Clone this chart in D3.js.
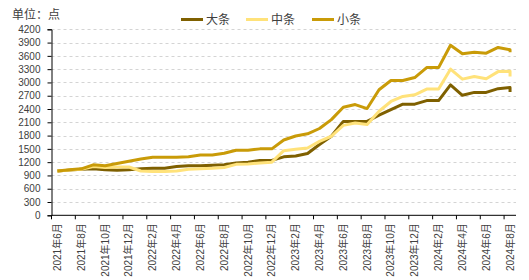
<!DOCTYPE html>
<html lang="zh">

<head>
    <meta charset="UTF-8">
    <script src="https://d3js.org/d3.v7.min.js"></script>
    <title>大中小条</title>
    <style>
        body { margin: 0; background: #fff; }
        text { font-family: "Liberation Sans", "Noto Sans CJK SC", sans-serif; fill: #404040; }
    </style>
</head>

<body>
    <div id="chart"></div>
    <script>

        // categories (monthly)
        const months = ["2021年6月", "2021年7月", "2021年8月", "2021年9月", "2021年10月", "2021年11月", "2021年12月",
            "2022年1月", "2022年2月", "2022年3月", "2022年4月", "2022年5月", "2022年6月", "2022年7月", "2022年8月",
            "2022年9月", "2022年10月", "2022年11月", "2022年12月", "2023年1月", "2023年2月", "2023年3月", "2023年4月",
            "2023年5月", "2023年6月", "2023年7月", "2023年8月", "2023年9月", "2023年10月", "2023年11月", "2023年12月",
            "2024年1月", "2024年2月", "2024年3月", "2024年4月", "2024年5月", "2024年6月", "2024年7月", "2024年8月"];

        // the last month has two readings
        const pointMonths = months.concat(["2024年8月"]);

        const big = [1000, 1020, 1040, 1050, 1030, 1020, 1030, 1050, 1060, 1060, 1100, 1120, 1120, 1130, 1140,
            1180, 1200, 1240, 1240, 1320, 1340, 1395, 1600, 1785, 2120, 2120, 2120, 2260, 2385, 2510, 2510,
            2590, 2590, 2945, 2710, 2775, 2775, 2860, 2885, 2785];
        const mid = [1000, 1020, 1040, 1100, 1080, 1090, 1090, 1000, 990, 990, 1000, 1040, 1050, 1060, 1080,
            1150, 1160, 1180, 1200, 1460, 1490, 1520, 1670, 1785, 2030, 2085, 2050, 2350, 2570, 2685, 2720,
            2850, 2850, 3300, 3075, 3135, 3085, 3245, 3250, 3135];
        const small = [1000, 1030, 1050, 1140, 1120, 1170, 1220, 1270, 1310, 1310, 1310, 1320, 1360, 1360, 1400,
            1470, 1470, 1500, 1500, 1700, 1790, 1840, 1960, 2160, 2440, 2500, 2410, 2835, 3045, 3045, 3110,
            3335, 3335, 3840, 3650, 3680, 3660, 3790, 3740, 3680];

        const seriesNames = ["大条", "中条", "小条"];
        const yTicks = d3.range(0, 4201, 300);

        const colors = ["#7F6000", "#FFE27A", "#C99B08"];

        const width = 529, height = 280;
        const plot = { left: 51.5, right: 516, top: 29.3, bottom: 215.3 };

        const svg = d3.select("#chart")
            .append("svg")
            .attr("width", width)
            .attr("height", height);

        const x = d3.scaleBand()
            .domain(months)
            .range([plot.left, plot.right])
            .padding(0);

        const y = d3.scaleLinear()
            .domain([0, 4200])
            .range([plot.bottom, plot.top]);

        // gridlines
        svg.append("g")
            .selectAll("line")
            .data(yTicks.filter(d => d > 0))
            .join("line")
            .attr("x1", plot.left)
            .attr("x2", plot.right)
            .attr("y1", d => Math.round(y(d)) + 0.5)
            .attr("y2", d => Math.round(y(d)) + 0.5)
            .attr("stroke", "#d4d4d4")
            .attr("stroke-width", 1)
            .attr("stroke-dasharray", "3,3");

        // y axis
        const yAxis = svg.append("g")
            .attr("transform", `translate(${plot.left},0)`)
            .call(d3.axisLeft(y).tickValues(yTicks).tickFormat(d3.format("d")).tickSize(4).tickPadding(7));
        yAxis.selectAll("text").attr("font-size", 10).attr("font-family", null).style("fill", "#404040");
        yAxis.selectAll("line, path").attr("stroke", "#000");

        // x axis: ticks on category boundaries every 2 months, labels at category centers
        const xAxis = svg.append("g").attr("transform", `translate(0,${plot.bottom})`);
        xAxis.append("line")
            .attr("x1", plot.left).attr("x2", plot.right)
            .attr("stroke", "#000");
        xAxis.selectAll(".tick")
            .data(months.filter((d, i) => i % 2 === 0))
            .join("line")
            .attr("class", "tick")
            .attr("x1", d => x(d)).attr("x2", d => x(d))
            .attr("y1", 0).attr("y2", 4)
            .attr("stroke", "#000");
        xAxis.selectAll(".lbl")
            .data(months.filter((d, i) => i % 2 === 0))
            .join("text")
            .attr("class", "lbl")
            .attr("transform", d => `translate(${x(d) + x.bandwidth() / 2},8) rotate(-90)`)
            .attr("text-anchor", "end")
            .attr("dy", "0.35em")
            .attr("font-size", 10)
            .text(d => d);

        // lines
        const line = d3.line()
            .x((d, i) => x(pointMonths[i]) + x.bandwidth() / 2)
            .y(d => y(d));

        [big, mid, small].forEach((s, k) => {
            svg.append("path")
                .datum(s)
                .attr("fill", "none")
                .attr("stroke", colors[k])
                .attr("stroke-width", 3)
                .attr("stroke-linejoin", "round")
                .attr("d", line);
        });

        // title
        svg.append("text")
            .attr("x", 12)
            .attr("y", 18.5)
            .attr("font-size", 12)
            .text("单位：点");

        // legend
        const legendX = [181, 246, 312];
        const legend = svg.append("g");
        seriesNames.forEach((name, k) => {
            legend.append("line")
                .attr("x1", legendX[k]).attr("x2", legendX[k] + 22)
                .attr("y1", 19.5).attr("y2", 19.5)
                .attr("stroke", colors[k])
                .attr("stroke-width", 3);
            legend.append("text")
                .attr("x", legendX[k] + 25)
                .attr("y", 24)
                .attr("font-size", 12)
                .text(name);
        });

    </script>
</body>

</html>
